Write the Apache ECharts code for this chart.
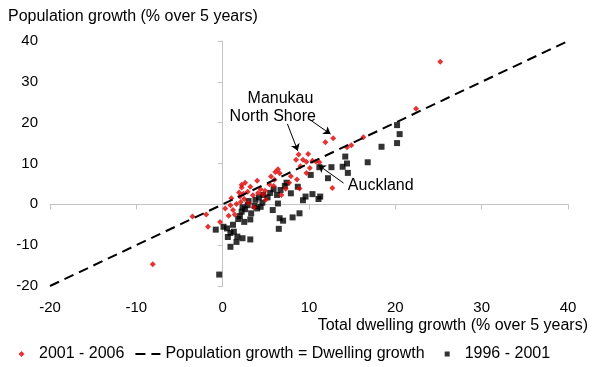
<!DOCTYPE html>
<html><head><meta charset="utf-8">
<script src="https://cdn.jsdelivr.net/npm/echarts@6/dist/echarts.min.js"></script>
<style>html,body{margin:0;padding:0;background:#fff}#c{width:598px;height:367px}</style>
</head><body><div id="c"></div>
<script>
const xTicks = [-20, -10, 0, 10, 20, 30, 40];
const yTicks = [-20, -10, 0, 10, 20, 30, 40];
const seriesNames = ['2001 - 2006', 'Population growth = Dwelling growth', '1996 - 2001'];
const growth2001to2006 = [
  [25.2,34.9],[22.4,23.4],[16.3,16.4],[14.9,14.5],[14.4,14.0],[12.8,16.2],[11.9,15.2],
  [8.8,12.2],[9.9,12.3],[8.5,10.9],[9.3,10.9],[9.7,10.4],[10.4,10.7],[10.8,10.5],[11.2,10.3],
  [10.1,8.9],[9.7,7.7],[12.7,4.0],[8.6,6.1],[8.9,3.9],[6.4,8.6],[6.1,7.9],[6.6,7.6],[6.0,6.0],
  [5.4,4.9],[5.9,4.5],[4.4,3.7],[4.1,2.8],[4.7,2.4],[2.9,3.1],[2.4,2.6],[3.5,2.2],[2.2,4.1],
  [2.2,4.8],[2.0,1.9],[2.5,1.3],[2.1,0.6],[1.6,0.1],[0.9,-0.2],[1.2,-1.4],[0.7,-2.8],[1.4,-2.5],
  [-1.9,-2.5],[-3.5,-3.0],[-1.7,-5.5],[-0.3,-4.3],[-8.1,-14.7],[3.6,-0.7],[5.0,1.1],[6.8,2.3],
  [7.3,3.8],[7.7,5.3],[3.0,0.3],[1.9,2.9],[4.9,3.3],[3.2,4.3],[7.9,6.9],[0.3,-1.0],[2.6,5.3],
  [5.6,6.8],[9.0,9.3],[4.0,5.8],[1.0,1.5]
];
const growth1996to2001 = [
  [20.2,19.4],[20.5,17.2],[20.2,15.0],[18.4,14.1],[16.8,10.3],[14.2,11.7],[14.4,10.0],[13.9,9.2],
  [14.5,7.7],[12.6,9.1],[12.2,6.4],[11.2,9.1],[10.2,7.2],[11.3,1.9],[11.1,1.3],[10.4,2.5],[9.6,1.9],
  [8.7,4.3],[7.9,2.7],[7.4,5.3],[7.2,4.5],[6.7,3.5],[6.3,2.3],[5.9,3.7],[5.5,2.8],[5.2,1.7],
  [4.7,2.3],[4.2,1.7],[3.8,1.1],[2.9,-0.2],[2.3,-0.7],[2.2,-1.8],[3.3,-2.2],[3.2,-3.7],[2.5,-4.3],
  [3.7,-0.4],[4.0,-1.0],[4.4,-0.6],[5.8,-1.4],[6.4,0.2],[6.6,-3.4],[7.0,-4.0],[8.1,-3.2],[8.9,-2.2],
  [0.1,-5.5],[0.5,-5.9],[0.9,-7.0],[1.3,-6.7],[-0.8,-6.2],[1.7,-7.9],[2.3,-8.3],[3.2,-8.6],
  [-0.4,-17.2],[0.9,-10.4],[1.6,-9.2],[6.5,-6.0],[2.0,-2.9],[2.6,-1.2],[1.8,-3.6],[3.0,0.8],
  [4.6,0.4],[1.2,-5.0],[0.6,-8.0],[9.3,1.0]
];
const parityLine = [[-20,-20],[40,40]];
const annotations = [
  {text:'Manukau', at:[6.7,25.8], from:[9.85,21.1], to:[12.5,17.2], align:'center'},
  {text:'North Shore', at:[5.8,21.4], from:[7.5,19.7], to:[8.7,13.1], align:'center'},
  {text:'Auckland', at:[14.5,4.5], from:[14.0,5.2], to:[11.1,9.6], align:'left'}
];

const FONT = 'Liberation Sans, Arial, sans-serif';
const AXIS_GREY = '#c4c4c4';
const RED = '#e00000';
// legend icons padded to the full 25x7 legend box so they are not stretched
const BOX = 'M0,0L0.01,0M25,7L24.99,7';
const DIAMOND_ICON = 'path://' + BOX + 'M12.5,0.5L15.5,3.5L12.5,6.5L9.5,3.5Z';
const SQUARE_ICON = 'path://' + BOX + 'M10,1H15V6H10Z';
const chart = echarts.init(document.getElementById('c'), null, {renderer:'canvas'});
const baseX = {type:'value', min:xTicks[0], max:xTicks[xTicks.length-1], interval:xTicks[1]-xTicks[0]};
const baseY = {type:'value', min:yTicks[0], max:yTicks[yTicks.length-1], interval:yTicks[1]-yTicks[0]};
chart.setOption({
  animation:false,
  backgroundColor:'#fff',
  textStyle:{fontFamily:FONT},
  title:[
    {text:'Population growth (% over 5 years)', left:8, top:9, padding:0,
     textStyle:{fontSize:16, fontWeight:'normal', color:'#000', fontFamily:FONT}},
    {text:'Total dwelling growth (% over 5 years)', right:10, top:318, padding:0,
     textStyle:{fontSize:16, fontWeight:'normal', color:'#000', fontFamily:FONT}}
  ],
  grid:{left:50, right:30, top:41, bottom:81, outerBoundsMode:'none'},
  legend:{
    left:9, top:346, padding:0, itemWidth:25, itemHeight:7, itemGap:10,
    textStyle:{fontSize:16, color:'#000', fontFamily:FONT},
    data:[
      {name:seriesNames[0], icon:DIAMOND_ICON, itemStyle:{color:RED}},
      {name:seriesNames[1], lineStyle:{color:'#000', width:2, type:[10,6]}, itemStyle:{color:'rgba(0,0,0,0)', opacity:0}},
      {name:seriesNames[2], icon:SQUARE_ICON, itemStyle:{color:'#000'}}
    ]
  },
  xAxis:[
    Object.assign({}, baseX, {position:'bottom', axisLine:{show:false, onZero:false}, axisTick:{show:false},
      splitLine:{show:false}, axisLabel:{fontSize:15, color:'#000', margin:14, fontFamily:FONT}}),
    Object.assign({}, baseX, {position:'bottom', axisLine:{show:true, onZero:true, onZeroAxisIndex:0, lineStyle:{color:AXIS_GREY, width:1}},
      axisTick:{show:true, length:5, lineStyle:{color:AXIS_GREY}}, axisLabel:{show:false}, splitLine:{show:false}})
  ],
  yAxis:[
    Object.assign({}, baseY, {position:'left', axisLine:{show:false, onZero:false}, axisTick:{show:false},
      splitLine:{show:false}, axisLabel:{fontSize:15, color:'#000', margin:12, fontFamily:FONT}}),
    Object.assign({}, baseY, {position:'left', axisLine:{show:true, onZero:true, onZeroAxisIndex:0, lineStyle:{color:AXIS_GREY, width:1}},
      axisTick:{show:true, length:5, lineStyle:{color:AXIS_GREY}}, axisLabel:{show:false}, splitLine:{show:false}})
  ],
  series:[
    {name:seriesNames[0], type:'scatter', xAxisIndex:0, yAxisIndex:0, data:growth2001to2006,
     symbol:'diamond', symbolSize:6, itemStyle:{color:RED}, z:3,
     markLine:{silent:true, symbol:['none','arrow'], symbolSize:7, label:{show:false},
       lineStyle:{color:'#000', width:1, type:'solid'},
       data:annotations.map(a => [{coord:a.from}, {coord:a.to}])}},
    {name:seriesNames[1], type:'line', xAxisIndex:0, yAxisIndex:0, data:parityLine, symbol:'none',
     lineStyle:{color:'#000', width:2, type:[10,6]}, itemStyle:{color:'rgba(0,0,0,0)'}, z:4, silent:true},
    {name:seriesNames[2], type:'scatter', xAxisIndex:0, yAxisIndex:0, data:growth1996to2001,
     symbol:'rect', symbolSize:6, itemStyle:{color:'#000'}, z:2}
  ]
});
const texts = annotations.map(a => {
  const p = chart.convertToPixel({xAxisIndex:0, yAxisIndex:0}, a.at);
  return {type:'text', x:p[0], y:p[1], style:{text:a.text, fontSize:16, fill:'#000', font:'16px ' + FONT,
    align:a.align, verticalAlign:'middle'}};
});
chart.setOption({graphic:texts});
</script></body></html>
